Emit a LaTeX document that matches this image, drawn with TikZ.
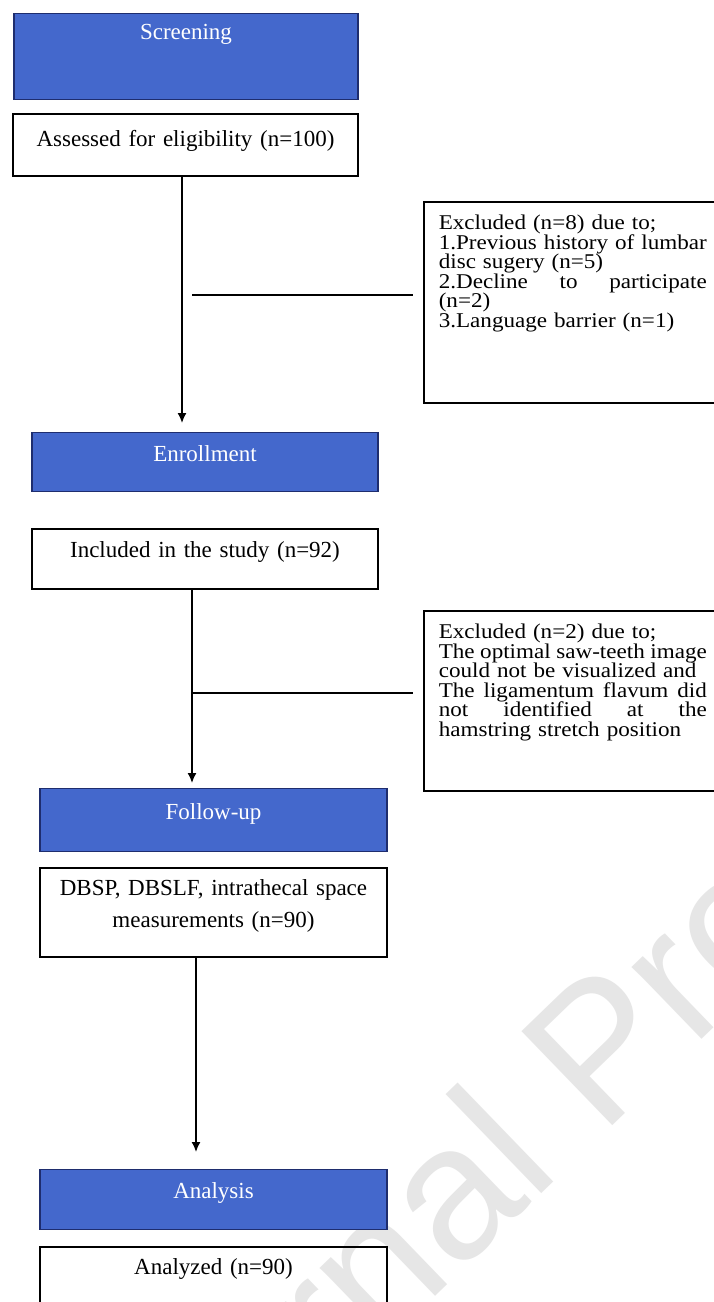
\documentclass[tikz,border=0pt]{standalone}
\usepackage{fontspec}
\setmainfont{Liberation Serif}
\newfontfamily\exclfont{Liberation Serif}[FakeStretch=1.1]
\newfontfamily\markfont{Liberation Sans}
\usetikzlibrary{arrows.meta,calc}
\definecolor{phaseblue}{RGB}{68,104,204}
\definecolor{phaseline}{RGB}{30,45,110}
\definecolor{markgray}{RGB}{230,230,230}
\tikzset{
  phase/.style={draw=phaseline, line width=1.4pt, fill=phaseblue, text=white, anchor=north,
    inner xsep=0pt, inner ysep=0pt, font=\fontsize{23}{32}\selectfont},
  stepbox/.style={draw, line width=1.6pt, anchor=north, align=center,
    inner xsep=0pt, inner ysep=0pt, font=\fontsize{23}{32}\selectfont},
  exclbox/.style={draw, line width=1.6pt, anchor=north west, align=left, text width=268pt,
    inner xsep=15pt, inner ysep=0pt, font={\exclfont\fontsize{21}{19.5}\selectfont\lineskiplimit=-50pt}},
  flow/.style={line width=1.6pt, -{Latex[length=10pt,width=9pt]}},
  link/.style={line width=1.6pt}
}
\begin{document}
\begin{tikzpicture}[x=1pt,y=-1pt]
    \useasboundingbox[fill=white] (0,0) rectangle (713,1302);

    % watermark
    \begin{scope}
        \clip (0,0) rectangle (713,1302);
        \node[font=\markfont\fontsize{190}{190}\selectfont, text=markgray, anchor=base west,
              rotate=44, inner sep=0pt] (mark) at (115,1606) {Journal Pre-proof};
    \end{scope}

    % phases and steps
    \node[phase, minimum width=344pt, text height=26pt, text depth=60pt] (screen) at (186,13) {Screening};
    \node[stepbox, text width=345pt, text height=33pt, text depth=29pt] (assess) at (185.5,113) {Assessed for eligibility (n=100)};

    \node[phase, minimum width=346pt, text height=29pt, text depth=30pt] (enrol) at (205,432) {Enrollment};
    \node[stepbox, text width=346pt, text height=29pt, text depth=31pt] (incl) at (205,528) {Included in the study (n=92)};

    \node[phase, minimum width=347pt, text height=31pt, text depth=32pt] (follow) at (213.5,788) {Follow-up};
    \node[stepbox, text width=347pt, text height=28pt, text depth=61pt] (dbsp) at (213.5,867) {DBSP, DBSLF, intrathecal space\\measurements (n=90)};

    \node[phase, minimum width=347pt, text height=29pt, text depth=31pt] (analysis) at (213.5,1169) {Analysis};
    \node[stepbox, text width=347pt, text height=28pt, text depth=60pt] (analyzed) at (213.5,1246) {Analyzed (n=90)};

    % exclusions
    \node[exclbox, text height=28pt, text depth=173pt] (excl1) at (423,201) {Excluded (n=8) due to;\\
        1.Previous\hfill history\hfill of\hfill lumbar\\
        disc sugery (n=5)\\
        2.Decline\hfill to\hfill participate\\
        (n=2)\\
        3.Language barrier (n=1)};
    \node[exclbox, text height=28pt, text depth=152pt] (excl2) at (423,610) {Excluded (n=2) due to;\\
        The\hfill optimal\hfill saw-teeth\hfill image\\
        could not be visualized and\\
        The\hfill ligamentum\hfill flavum\hfill did\\
        not\hfill identified\hfill at\hfill the\\
        hamstring stretch position};

    % connectors
    \draw[flow, shorten >=9pt] ([xshift=-3.5pt]assess.south) coordinate (a1) -- (a1 |- enrol.north);
    \draw[flow, shorten >=5pt] ([xshift=-13pt]incl.south) coordinate (a2) -- (a2 |- follow.north);
    \draw[flow, shorten >=17pt] ([xshift=-17.5pt]dbsp.south) coordinate (a3) -- (a3 |- analysis.north);

    \coordinate (j1) at (192,295);
    \coordinate (j2) at (192,693);
    \draw[link] (j1) -- ($(excl1.west |- j1)+(-10,0)$);
    \draw[link] (j2) -- ($(excl2.west |- j2)+(-10,0)$);
\end{tikzpicture}
\end{document}
